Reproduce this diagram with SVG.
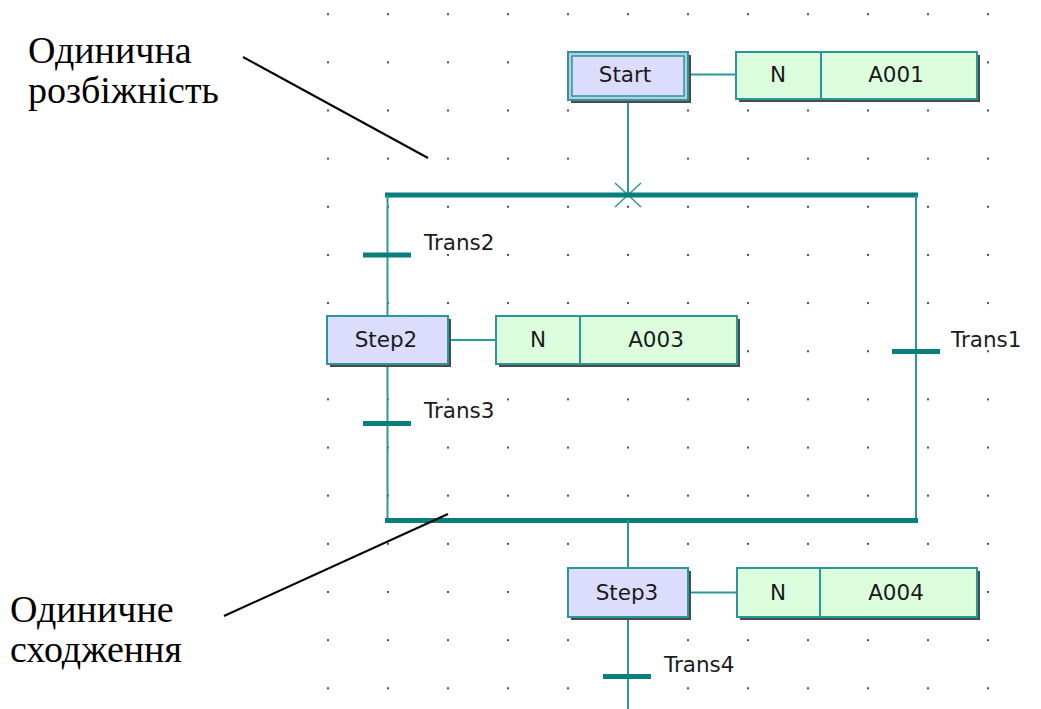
<svg xmlns="http://www.w3.org/2000/svg" width="1041" height="709" viewBox="0 0 1041 709">
  <defs>
    <!-- editor grid: one dot per 60 x 48.15 cell -->
    <pattern id="grid" x="327" y="13.2" width="60" height="48.15" patternUnits="userSpaceOnUse">
      <rect x="0" y="0" width="2" height="2" fill="#505050"/>
    </pattern>
    <style>
      .wire { stroke: #2a9898; stroke-width: 2; fill: none; }
      .bar { stroke: #087f7c; stroke-width: 5; fill: none; }
      .mark { stroke: #2a9898; stroke-width: 1.5; fill: none; }
      .shadow { fill: #4a4a4a; }
      .step { fill: #dcdcfd; stroke: #2a9898; stroke-width: 2; }
      .initband { fill: #bccbea; stroke: #2a9898; stroke-width: 2; }
      .initcore { fill: #dcdcfd; stroke: #2a9898; stroke-width: 1.5; }
      .action { fill: #ddfedd; stroke: #2a9898; stroke-width: 2; }
      .lbl { font-family: "DejaVu Sans", "Liberation Sans", sans-serif; font-size: 21.5px; fill: #1a1a1a; }
      .mid { text-anchor: middle; }
      .note { font-family: "Liberation Serif", "Times New Roman", serif; font-size: 38px; fill: #000; }
      .pointer { stroke: #000; stroke-width: 2; fill: none; }
    </style>
  </defs>

  <rect width="1041" height="709" fill="#ffffff"/>
  <rect x="320" y="0" width="680" height="709" fill="url(#grid)"/>

  <!-- connectors -->
  <g id="connectors">
    <line class="wire" x1="688" y1="74.5" x2="736" y2="74.5"/>
    <line class="wire" x1="628" y1="100" x2="628" y2="195"/>
    <line class="mark" x1="615" y1="183" x2="641" y2="207"/>
    <line class="mark" x1="641" y1="183" x2="615" y2="207"/>
    <line class="bar" x1="385" y1="195" x2="918" y2="195"/>
    <line class="wire" x1="387.5" y1="195" x2="387.5" y2="316"/>
    <line class="wire" x1="387.5" y1="364" x2="387.5" y2="520"/>
    <line class="wire" x1="916" y1="195" x2="916" y2="520"/>
    <line class="wire" x1="448" y1="340" x2="496" y2="340"/>
    <line class="bar" x1="385" y1="520.5" x2="918" y2="520.5"/>
    <line class="wire" x1="628" y1="520" x2="628" y2="568"/>
    <line class="wire" x1="688" y1="592.5" x2="737" y2="592.5"/>
    <line class="wire" x1="628" y1="617" x2="628" y2="709"/>
  </g>

  <!-- initial step -->
  <g id="start">
    <rect class="shadow" x="571" y="55" width="120" height="48"/>
    <rect class="initband" x="568" y="52" width="120" height="48"/>
    <rect class="initcore" x="572" y="56" width="112" height="40"/>
    <text class="lbl mid" x="625" y="82">Start</text>
  </g>
  <g id="act-a001">
    <rect class="shadow" x="739" y="55" width="241" height="47"/>
    <rect class="action" x="736" y="52" width="241" height="47"/>
    <line class="wire" x1="821" y1="52" x2="821" y2="99"/>
    <text class="lbl mid" x="778" y="82">N</text>
    <text class="lbl mid" x="896" y="82">A001</text>
  </g>

  <!-- left branch -->
  <g id="trans2">
    <line class="bar" x1="363" y1="255" x2="411" y2="255"/>
    <text class="lbl" x="424" y="250">Trans2</text>
  </g>
  <g id="step2">
    <rect class="shadow" x="330" y="319" width="121" height="48"/>
    <rect class="step" x="327" y="316" width="121" height="48"/>
    <text class="lbl mid" x="386" y="347">Step2</text>
  </g>
  <g id="act-a003">
    <rect class="shadow" x="499" y="319" width="241" height="48"/>
    <rect class="action" x="496" y="316" width="241" height="48"/>
    <line class="wire" x1="580" y1="316" x2="580" y2="364"/>
    <text class="lbl mid" x="538" y="347">N</text>
    <text class="lbl mid" x="656" y="347">A003</text>
  </g>
  <g id="trans3">
    <line class="bar" x1="363" y1="423.5" x2="411" y2="423.5"/>
    <text class="lbl" x="424" y="418">Trans3</text>
  </g>

  <!-- right branch -->
  <g id="trans1">
    <line class="bar" x1="892" y1="351.5" x2="940" y2="351.5"/>
    <text class="lbl" x="951" y="347">Trans1</text>
  </g>

  <!-- after convergence -->
  <g id="step3">
    <rect class="shadow" x="571" y="571" width="120" height="49"/>
    <rect class="step" x="568" y="568" width="120" height="49"/>
    <text class="lbl mid" x="627" y="600">Step3</text>
  </g>
  <g id="act-a004">
    <rect class="shadow" x="740" y="571" width="240" height="49"/>
    <rect class="action" x="737" y="568" width="240" height="49"/>
    <line class="wire" x1="820" y1="568" x2="820" y2="617"/>
    <text class="lbl mid" x="778" y="600">N</text>
    <text class="lbl mid" x="896" y="600">A004</text>
  </g>
  <g id="trans4">
    <line class="bar" x1="603" y1="676.5" x2="651" y2="676.5"/>
    <text class="lbl" x="664" y="672">Trans4</text>
  </g>

  <!-- callouts -->
  <g id="note-divergence">
    <text class="note" x="28" y="63">Одинична</text>
    <text class="note" x="28" y="103">розбіжність</text>
    <line class="pointer" x1="243" y1="57" x2="428" y2="158"/>
  </g>
  <g id="note-convergence">
    <text class="note" x="10" y="622">Одиничне</text>
    <text class="note" x="10" y="662">сходження</text>
    <line class="pointer" x1="224" y1="616" x2="448" y2="514"/>
  </g>
</svg>
